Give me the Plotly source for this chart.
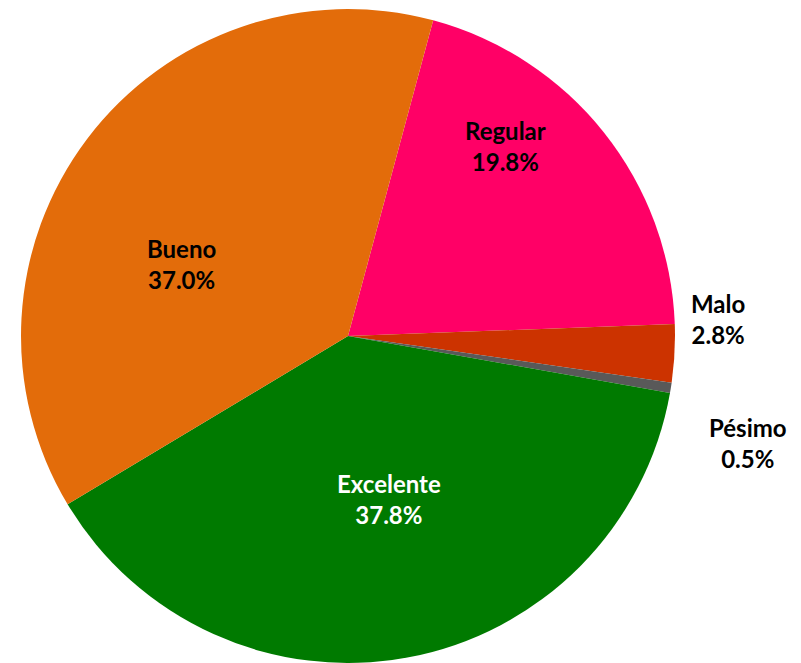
import plotly.graph_objects as go

categories = ["Regular", "Malo", "Pésimo", "Excelente", "Bueno"]
values = [19.8, 2.8, 0.5, 37.8, 37.0]
colors = ["#FF0066", "#CC3300", "#595959", "#007A00", "#E36C0A"]
text_colors = ["#000000", "#000000", "#000000", "#FFFFFF", "#000000"]
# label anchor positions (paper coords)
label_x = [0.6317, 0.8964, 0.9338, 0.4856, 0.2260]
label_y = [0.7798, 0.5188, 0.3318, 0.2474, 0.6018]

fig = go.Figure(go.Pie(
    labels=categories,
    values=values,
    textinfo="none",
    marker=dict(colors=colors, line=dict(width=0)),
    sort=False,
    direction="clockwise",
    rotation=15.1,
    showlegend=False,
    hoverinfo="label+percent",
    domain=dict(x=[0.02497, 0.84395], y=[0.0, 0.9864]),
))

for cat, val, tc, lx, ly in zip(categories, values, text_colors, label_x, label_y):
    fig.add_annotation(
        x=lx, y=ly, xref="paper", yref="paper",
        text=f"<b>{cat}</b><br><b>{val:.1f}%</b>",
        showarrow=False, xanchor="center", yanchor="middle",
        font=dict(family="Lato", size=24, color=tc),
    )

fig.update_layout(
    width=801, height=663,
    margin=dict(l=0, r=0, t=0, b=0),
    paper_bgcolor="white",
    plot_bgcolor="white",
)
fig.write_html("out.html", config={"displayModeBar": False},
               post_script="document.body.style.margin='0';")
